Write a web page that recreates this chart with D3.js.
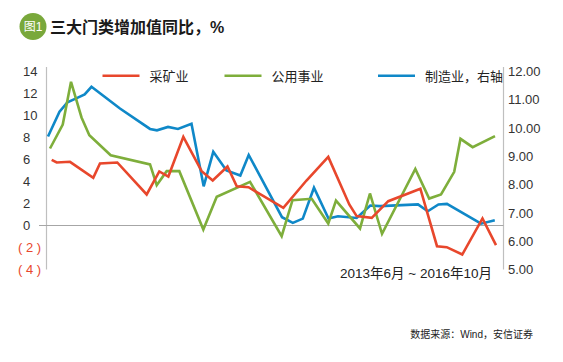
<!DOCTYPE html>
<html><head><meta charset="utf-8">
<script src="https://cdn.jsdelivr.net/npm/d3@7"></script>
<style>
html,body{margin:0;padding:0;background:#fff;}
svg{display:block;font-family:"Liberation Sans",Arial,"Noto Sans CJK SC",sans-serif;}
.cjk{font-family:"Liberation Sans","Noto Sans CJK SC",sans-serif;}
</style></head>
<body>
<svg id="chart" width="563" height="362"></svg>
<script>
// ---- data (x = months since 2013-06) ----
const seriesNames = ["采矿业", "公用事业", "制造业，右轴"];
const miningMonths = [0.33,0.78,1.97,4.05,4.65,6.2,8.83,9.96,10.77,12.11,13.75,14.74,16.06,16.89,17.94,21.06,23.13,25.08,26.96,27.62,28.97,30.45,33.32,34.81,35.68,37.07,38.88,40.09];
const miningValues = [5.97,5.73,5.79,4.34,5.64,5.73,2.82,4.91,4.45,8.06,4.94,4.09,5.36,3.57,3.48,1.61,4.09,6.24,1.91,0.85,0.7,2.21,3.34,-1.88,-1.97,-2.64,0.64,-1.79];
const utilMonths = [0.18,1.32,2.06,3.0,3.7,5.61,9.13,9.73,10.62,11.75,13.9,15.1,18.08,20.91,21.88,23.6,25.08,25.77,27.92,28.81,29.89,32.87,34.11,35.17,36.35,36.91,38.0,40.0];
const utilValues = [7.0,9.18,13.06,9.82,8.21,6.39,5.55,3.66,4.94,4.94,-0.36,2.61,3.97,-0.97,2.3,2.43,0.18,2.27,-0.27,2.91,-0.75,5.15,2.45,2.82,4.88,7.88,7.12,8.12];
const mfgMonths = [0,1.03,1.74,2.62,3.28,3.89,6.44,9.13,9.75,10.74,11.63,12.84,13.93,14.79,15.97,17.21,17.96,20.94,21.91,22.8,23.8,25.1,25.95,27.62,28.84,29.71,33.11,33.98,34.94,35.7,38.75,39.98];
const mfgValues = [9.7,10.58,10.91,11.07,11.19,11.46,10.69,9.97,9.92,10.04,9.97,10.15,7.94,9.16,8.5,8.32,9.05,6.85,6.65,6.8,7.89,6.8,6.88,6.82,7.26,7.24,7.3,7.06,7.3,7.32,6.62,6.74];
const leftTicks = [-4,-2,0,2,4,6,8,10,12,14];
const rightTicks = [5,6,7,8,9,10,11,12];
const titleText = "三大门类增加值同比，%";
const badgeText = "图1";
const periodText = "2013年6月 ~ 2016年10月";
const sourceText = "数据来源：Wind，安信证券";

const colors = ["#e8472c", "#7eae3b", "#0f88c8"];

const svg = d3.select("#chart");
const x = d3.scaleLinear().domain([0, 40]).range([48, 495]);
const yL = d3.scaleLinear().domain([-4, 14]).range([269.5, 71.5]);
const yR = d3.scaleLinear().domain([5, 12]).range([269.5, 71.5]);

// title
svg.append("circle").attr("cx", 33).attr("cy", 26.5).attr("r", 13.5).attr("fill", "#79a83b");
svg.append("text").attr("class","cjk").attr("x", 33).attr("y", 31).attr("text-anchor","middle")
  .attr("font-size", 12).attr("fill","#fff").text(badgeText);
svg.append("text").attr("class","cjk").attr("x", 50).attr("y", 33).attr("font-size", 16)
  .attr("font-weight","bold").attr("fill","#1a1a1a").text(titleText);

// axes lines
svg.append("line").attr("x1",46.5).attr("x2",46.5).attr("y1",67).attr("y2",yL(-4)).attr("stroke","#bfbfbf").attr("stroke-width",1.2);
svg.append("line").attr("x1",503.5).attr("x2",503.5).attr("y1",67).attr("y2",yR(5)).attr("stroke","#bfbfbf").attr("stroke-width",1.2);
svg.append("line").attr("x1",39).attr("x2",503.5).attr("y1",yL(0)).attr("y2",yL(0)).attr("stroke","#a6a6a6").attr("stroke-width",1);

// left axis
const gL = svg.append("g").attr("transform","translate(46.5,0)")
  .call(d3.axisLeft(yL).tickValues(leftTicks).tickSize(0)
    .tickFormat(d => d < 0 ? "( " + (-d) + " )" : String(d)));
gL.select(".domain").remove();
gL.selectAll(".tick text")
  .attr("text-anchor","start")
  .attr("x", d => d < 0 ? -28.5 : -23.5)
  .attr("font-size", 13)
  .attr("font-family", '"Liberation Sans",Arial,sans-serif')
  .attr("fill", d => d < 0 ? "#e8472c" : "#333");

// right axis
const gR = svg.append("g").attr("transform","translate(503.5,0)")
  .call(d3.axisRight(yR).tickValues(rightTicks).tickSize(0).tickFormat(d3.format(".2f")));
gR.select(".domain").remove();
gR.selectAll(".tick text").attr("x", 4.5).attr("font-size", 13)
  .attr("font-family", '"Liberation Sans",Arial,sans-serif').attr("fill","#333");

// lines
const seriesData = [
  {months: miningMonths, values: miningValues, y: yL},
  {months: utilMonths, values: utilValues, y: yL},
  {months: mfgMonths, values: mfgValues, y: yR}
];
[2,1,0].forEach(i => {
  const s = seriesData[i];
  const pts = s.months.map((m, j) => [m, s.values[j]]);
  const line = d3.line().x(d => x(d[0])).y(d => s.y(d[1]));
  svg.append("path").datum(pts).attr("d", line).attr("fill","none")
    .attr("stroke", colors[i]).attr("stroke-width", 2.6).attr("stroke-linejoin","miter").attr("stroke-miterlimit", 3);
});

// legend
const legX = [102.5, 224.5, 378];
seriesNames.forEach((n, i) => {
  svg.append("line").attr("x1", legX[i]).attr("x2", legX[i] + 37).attr("y1", 75.7).attr("y2", 75.7)
    .attr("stroke", colors[i]).attr("stroke-width", 2.6);
  svg.append("text").attr("class","cjk").attr("x", legX[i] + 47).attr("y", 80.5)
    .attr("font-size", 13).attr("fill","#222").text(n);
});

// notes
svg.append("text").attr("class","cjk").attr("x", 492).attr("y", 278).attr("text-anchor","end")
  .attr("font-size", 13.5).attr("fill","#222").text(periodText);
svg.append("text").attr("class","cjk").attr("x", 533).attr("y", 338).attr("text-anchor","end")
  .attr("font-size", 10).attr("fill","#222").text(sourceText);
</script>
</body></html>
